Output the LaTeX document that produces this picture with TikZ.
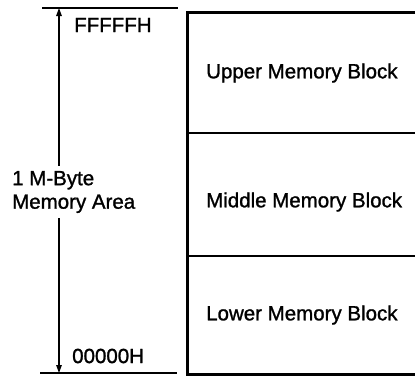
\documentclass[tikz,border=0pt]{standalone}
\usepackage{fontspec}
\setmainfont{Liberation Sans}[FakeBold=1.2]
\usetikzlibrary{arrows.meta}
\begin{document}
\begin{tikzpicture}[x=1pt,y=-1pt,
  lbl/.style={font=\fontsize{20.5}{23.5}\selectfont, inner sep=0pt},
  boxline/.style={line width=3pt},
  divline/.style={line width=1.4pt},
  refline/.style={line width=1.6pt},
  dimarrow/.style={line width=1.3pt, {Triangle[length=8pt,width=5.5pt]}-{Triangle[length=8pt,width=5.5pt]}}]
\useasboundingbox (0,0) rectangle (415,378);
% reference lines
\coordinate (tl) at (42,8);
\coordinate (tr) at (178,8);
\coordinate (bl) at (40,373);
\coordinate (br) at (177,373);
\draw[refline] (tl) -- (tr);
\draw[refline] (bl) -- (br);
% dimension arrow
\coordinate (atop) at (59,8);
\coordinate (abot) at (59,373);
\draw[dimarrow] (atop) -- (abot);
% label over arrow
\node[lbl, fill=white, align=left, anchor=west, inner ysep=5pt] (area) at (12,192) {1 M-Byte\\Memory Area};
% addresses
\node[lbl, anchor=west] (ftop) at (74,25) {FFFFFH};
\node[lbl, anchor=west] (fbot) at (72,356) {00000H};
% memory box
\coordinate (b1) at (416,12);
\coordinate (b2) at (187,12);
\coordinate (b3) at (187,374);
\coordinate (b4) at (416,374);
\draw[boxline] (b1) -- (b2) -- (b3) -- (b4);
\coordinate (d1l) at (187,133);
\coordinate (d1r) at (416,133);
\coordinate (d2l) at (187,256);
\coordinate (d2r) at (416,256);
\draw[divline] (d1l) -- (d1r);
\draw[divline] (d2l) -- (d2r);
\node[lbl, anchor=west] (upper) at (206,73) {Upper Memory Block};
\node[lbl, anchor=west] (middle) at (206,202) {Middle Memory Block};
\node[lbl, anchor=west] (lower) at (206,315) {Lower Memory Block};
\end{tikzpicture}
\end{document}
